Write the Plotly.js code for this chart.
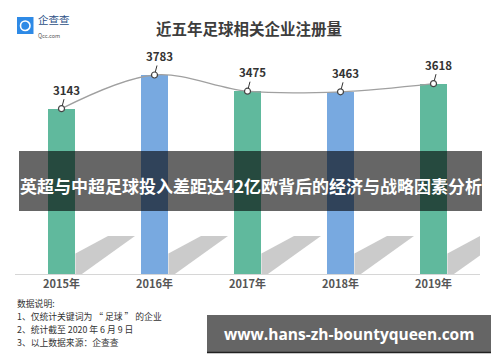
<!DOCTYPE html>
<html><head><meta charset="utf-8">
<script src="https://cdn.plot.ly/plotly-3.0.1.min.js"></script>
<style>html,body{margin:0;padding:0;background:#fff;}#c{width:500px;height:362px;}</style>
</head><body><div id="c"></div>
<script>
const years = ['2015年','2016年','2017年','2018年','2019年'];
const values = [3143, 3783, 3475, 3463, 3618];
const barColors = ['#60b99d','#78a9e0','#60b99d','#78a9e0','#60b99d'];
const titleText = '近五年足球相关企业注册量';
const bannerText = '英超与中超足球投入差距达42亿欧背后的经济与战略因素分析';
const urlText = 'www.hans-zh-bountyqueen.com';
const notes = ['数据说明:', '1、仅统计关键词为 “ 足球 ” 的企业', '2、统计截至 2020 年 6 月 9 日', '3、以上数据来源：企查查'];

const F = '"Noto Sans CJK SC", "Noto Sans", sans-serif';
const idx = years.map((_, i) => i);

// decorative floor shadows (offsets relative to each bar)
const shX = [0.15, 0.15, 0.5, 0.79, 0.22, 0.15];
const shY = [0, 390, 720, 720, 0, 0];
const traces = [];
idx.forEach(i => {
  traces.push({
    type: 'scatter', mode: 'lines', fill: 'toself',
    x: shX.map(d => i + d), y: shY,
    line: {width: 0}, fillcolor: 'rgba(185,185,185,0.75)',
    hoverinfo: 'skip', showlegend: false
  });
});
traces.push({
  type: 'bar', x: idx, y: values, width: 0.29,
  marker: {color: barColors}, hoverinfo: 'skip', showlegend: false
});
traces.push({
  type: 'scatter', mode: 'lines+markers', x: idx, y: values,
  line: {shape: 'spline', smoothing: 1, color: '#a0a0a0', width: 1.3},
  marker: {symbol: 'circle', size: 6, color: '#ffffff', line: {color: '#444', width: 1.2}},
  hoverinfo: 'skip', showlegend: false, cliponaxis: false
});

const px = x => (x - 15) / 465;
const py = y => (274 - y) / 224;

const annotations = values.map((v, i) => ({
  x: i, y: v, xref: 'x', yref: 'y', text: String(v),
  showarrow: true, arrowhead: 0, arrowwidth: 1, arrowcolor: '#333',
  ax: 5, ay: -19, standoff: 3,
  font: {family: F, size: 11.5, color: '#333', weight: 'bold'}
}));
notes.forEach((t, k) => annotations.push({
  x: px(16), y: py(303.5 + k * 13), xref: 'paper', yref: 'paper', xanchor: 'left', yanchor: 'middle',
  text: t, showarrow: false, borderpad: 0, font: {family: F, size: 8.8, color: '#333'}
}));
annotations.push({
  x: px(250.5), y: py(185), xref: 'paper', yref: 'paper', xanchor: 'center', yanchor: 'middle',
  text: bannerText, showarrow: false, font: {family: F, size: 17, color: '#ffffff', weight: 'bold'}
});
annotations.push({
  x: px(349), y: py(334), xref: 'paper', yref: 'paper', xanchor: 'center', yanchor: 'middle',
  text: urlText, showarrow: false, font: {family: '"Open Sans", "Noto Sans", sans-serif', size: 15.5, color: '#ffffff', weight: 'bold'}
});
annotations.push({
  x: px(36), y: py(26), xref: 'paper', yref: 'paper', xanchor: 'left', yanchor: 'middle',
  text: '企查查<br><span style="font-size:5.5px;color:#555">Qcc.com</span>', align: 'left', showarrow: false,
  font: {family: F, size: 10.5, color: '#2c4f86'}
});

const shapes = [
  {type: 'rect', xref: 'paper', yref: 'paper', x0: px(17), x1: px(33.5), y0: py(34), y1: py(17),
   fillcolor: '#2e8ae6', line: {width: 0}, layer: 'above'},
  {type: 'circle', xref: 'paper', yref: 'paper', x0: px(20.5), x1: px(30), y0: py(30.5), y1: py(21),
   fillcolor: 'rgba(0,0,0,0)', line: {color: '#ffffff', width: 1.6}, layer: 'above'},
  {type: 'rect', xref: 'paper', yref: 'paper', x0: px(19), x1: px(482), y0: py(211), y1: py(151),
   fillcolor: 'rgba(0,0,0,0.6)', line: {width: 0}, layer: 'above'},
  {type: 'rect', xref: 'paper', yref: 'paper', x0: px(207), x1: px(491), y0: py(352), y1: py(315),
   fillcolor: '#656565', line: {width: 0}, layer: 'above'},
  {type: 'line', xref: 'paper', yref: 'paper', x0: px(207), x1: px(491), y0: py(352.5), y1: py(352.5),
   line: {color: '#222', width: 1.5}, layer: 'above'}
];

const layout = {
  width: 500, height: 362,
  margin: {l: 15, r: 20, t: 50, b: 88},
  paper_bgcolor: '#ffffff', plot_bgcolor: '#ffffff',
  title: {text: titleText, x: 0.498, xanchor: 'center', y: 1 - 30/362, yanchor: 'middle',
          font: {family: F, size: 15.5, color: '#3d3d3d', weight: 'bold'}},
  xaxis: {range: [-0.5, 4.5], tickvals: idx, ticktext: years, showgrid: false, zeroline: false,
          showline: true, linecolor: '#d6d6d6', linewidth: 1, ticks: '',
          tickfont: {family: F, size: 11, color: '#555', weight: 'bold'}, fixedrange: true},
  yaxis: {range: [0, 4258], visible: false, showgrid: false, zeroline: false, fixedrange: true},
  annotations: annotations, shapes: shapes, bargap: 0
};
Plotly.newPlot('c', traces, layout, {displayModeBar: false, staticPlot: true});
</script></body></html>
